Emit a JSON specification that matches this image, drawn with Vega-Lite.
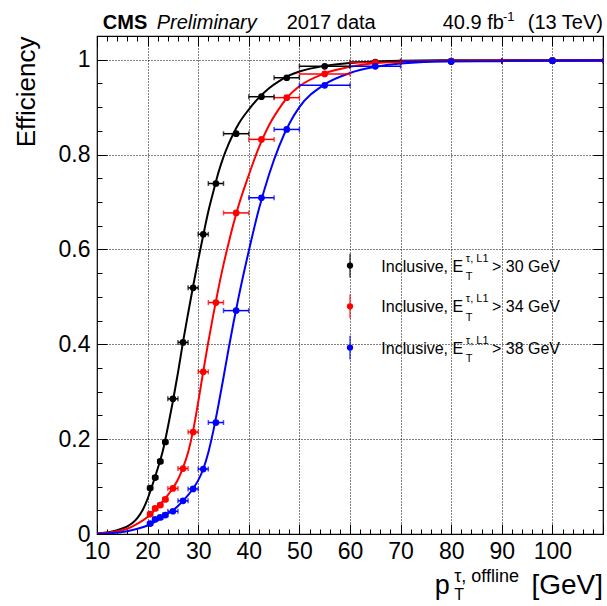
{
  "$schema": "https://vega.github.io/schema/vega-lite/v6.json",
  "width": 506,
  "height": 498,
  "autosize": {"type": "none"},
  "padding": {"left": 97, "top": 36, "right": 4, "bottom": 72},
  "background": "white",
  "config": {
    "view": {"stroke": "#000", "strokeWidth": 1.2},
    "font": "Liberation Sans",
    "text": {"font": "Liberation Sans", "color": "#000"}
  },
  "datasets": {
    "one": [{}],
    "fits": [
      {"s":"30","pt":10,"eff":0.001},{"s":"30","pt":12,"eff":0.003},{"s":"30","pt":14,"eff":0.008},{"s":"30","pt":16,"eff":0.016},{"s":"30","pt":17,"eff":0.023},{"s":"30","pt":18,"eff":0.034},{"s":"30","pt":19,"eff":0.05},{"s":"30","pt":20,"eff":0.074},{"s":"30","pt":21,"eff":0.105},{"s":"30","pt":22,"eff":0.138},{"s":"30","pt":23,"eff":0.175},{"s":"30","pt":24,"eff":0.225},{"s":"30","pt":25,"eff":0.28},{"s":"30","pt":26,"eff":0.34},{"s":"30","pt":27,"eff":0.405},{"s":"30","pt":28,"eff":0.465},{"s":"30","pt":29,"eff":0.523},{"s":"30","pt":30,"eff":0.578},{"s":"30","pt":31,"eff":0.63},{"s":"30","pt":32,"eff":0.68},{"s":"30","pt":33,"eff":0.722},{"s":"30","pt":34,"eff":0.762},{"s":"30","pt":35,"eff":0.795},{"s":"30","pt":36,"eff":0.822},{"s":"30","pt":37,"eff":0.845},{"s":"30","pt":38,"eff":0.865},{"s":"30","pt":40,"eff":0.895},{"s":"30","pt":42,"eff":0.92},{"s":"30","pt":44,"eff":0.94},{"s":"30","pt":46,"eff":0.955},{"s":"30","pt":48,"eff":0.967},{"s":"30","pt":50,"eff":0.975},{"s":"30","pt":55,"eff":0.987},{"s":"30","pt":60,"eff":0.993},{"s":"30","pt":65,"eff":0.996},{"s":"30","pt":70,"eff":0.998},{"s":"30","pt":80,"eff":0.999},{"s":"30","pt":110,"eff":0.999},
      {"s":"34","pt":10,"eff":0.001},{"s":"34","pt":13,"eff":0.004},{"s":"34","pt":16,"eff":0.011},{"s":"34","pt":18,"eff":0.022},{"s":"34","pt":20,"eff":0.036},{"s":"34","pt":21,"eff":0.046},{"s":"34","pt":22,"eff":0.057},{"s":"34","pt":23,"eff":0.069},{"s":"34","pt":24,"eff":0.082},{"s":"34","pt":25,"eff":0.097},{"s":"34","pt":26,"eff":0.115},{"s":"34","pt":27,"eff":0.14},{"s":"34","pt":28,"eff":0.172},{"s":"34","pt":29,"eff":0.218},{"s":"34","pt":30,"eff":0.278},{"s":"34","pt":31,"eff":0.343},{"s":"34","pt":32,"eff":0.405},{"s":"34","pt":33,"eff":0.463},{"s":"34","pt":34,"eff":0.518},{"s":"34","pt":35,"eff":0.568},{"s":"34","pt":36,"eff":0.613},{"s":"34","pt":37,"eff":0.655},{"s":"34","pt":38,"eff":0.693},{"s":"34","pt":40,"eff":0.757},{"s":"34","pt":42,"eff":0.815},{"s":"34","pt":44,"eff":0.862},{"s":"34","pt":46,"eff":0.897},{"s":"34","pt":48,"eff":0.925},{"s":"34","pt":50,"eff":0.944},{"s":"34","pt":55,"eff":0.971},{"s":"34","pt":60,"eff":0.985},{"s":"34","pt":65,"eff":0.993},{"s":"34","pt":70,"eff":0.996},{"s":"34","pt":80,"eff":0.998},{"s":"34","pt":110,"eff":0.999},
      {"s":"38","pt":10,"eff":0.0005},{"s":"38","pt":13,"eff":0.002},{"s":"38","pt":16,"eff":0.006},{"s":"38","pt":18,"eff":0.011},{"s":"38","pt":20,"eff":0.018},{"s":"38","pt":21,"eff":0.023},{"s":"38","pt":22,"eff":0.029},{"s":"38","pt":23,"eff":0.036},{"s":"38","pt":24,"eff":0.043},{"s":"38","pt":25,"eff":0.05},{"s":"38","pt":26,"eff":0.059},{"s":"38","pt":27,"eff":0.07},{"s":"38","pt":28,"eff":0.082},{"s":"38","pt":29,"eff":0.096},{"s":"38","pt":30,"eff":0.113},{"s":"38","pt":31,"eff":0.137},{"s":"38","pt":32,"eff":0.172},{"s":"38","pt":33,"eff":0.218},{"s":"38","pt":34,"eff":0.272},{"s":"38","pt":35,"eff":0.33},{"s":"38","pt":36,"eff":0.39},{"s":"38","pt":37,"eff":0.447},{"s":"38","pt":38,"eff":0.5},{"s":"38","pt":40,"eff":0.597},{"s":"38","pt":42,"eff":0.685},{"s":"38","pt":44,"eff":0.758},{"s":"38","pt":46,"eff":0.818},{"s":"38","pt":48,"eff":0.865},{"s":"38","pt":50,"eff":0.9},{"s":"38","pt":55,"eff":0.948},{"s":"38","pt":60,"eff":0.972},{"s":"38","pt":65,"eff":0.985},{"s":"38","pt":70,"eff":0.992},{"s":"38","pt":80,"eff":0.997},{"s":"38","pt":110,"eff":0.999}
    ],
    "pts": [
      {"s":"30","pt":20.5,"lo":20,"hi":21,"eff":0.097},{"s":"30","pt":21.5,"lo":21,"hi":22,"eff":0.119},{"s":"30","pt":22.5,"lo":22,"hi":23,"eff":0.153},{"s":"30","pt":23.5,"lo":23,"hi":24,"eff":0.194},{"s":"30","pt":25,"lo":24,"hi":26,"eff":0.285},{"s":"30","pt":27,"lo":26,"hi":28,"eff":0.404},{"s":"30","pt":29,"lo":28,"hi":30,"eff":0.519},{"s":"30","pt":31,"lo":30,"hi":32,"eff":0.632},{"s":"30","pt":33.5,"lo":32,"hi":35,"eff":0.739},{"s":"30","pt":37.5,"lo":35,"hi":40,"eff":0.844},{"s":"30","pt":42.5,"lo":40,"hi":45,"eff":0.922},{"s":"30","pt":47.5,"lo":45,"hi":50,"eff":0.962},{"s":"30","pt":55,"lo":50,"hi":60,"eff":0.986},{"s":"30","pt":65,"lo":60,"hi":70,"eff":0.995},{"s":"30","pt":80,"lo":70,"hi":90,"eff":0.997},{"s":"30","pt":100,"lo":90,"hi":110,"eff":0.998},
      {"s":"34","pt":20.5,"lo":20,"hi":21,"eff":0.042},{"s":"34","pt":21.5,"lo":21,"hi":22,"eff":0.054},{"s":"34","pt":22.5,"lo":22,"hi":23,"eff":0.061},{"s":"34","pt":23.5,"lo":23,"hi":24,"eff":0.073},{"s":"34","pt":25,"lo":24,"hi":26,"eff":0.096},{"s":"34","pt":27,"lo":26,"hi":28,"eff":0.138},{"s":"34","pt":29,"lo":28,"hi":30,"eff":0.215},{"s":"34","pt":31,"lo":30,"hi":32,"eff":0.342},{"s":"34","pt":33.5,"lo":32,"hi":35,"eff":0.488},{"s":"34","pt":37.5,"lo":35,"hi":40,"eff":0.677},{"s":"34","pt":42.5,"lo":40,"hi":45,"eff":0.832},{"s":"34","pt":47.5,"lo":45,"hi":50,"eff":0.92},{"s":"34","pt":55,"lo":50,"hi":60,"eff":0.97},{"s":"34","pt":65,"lo":60,"hi":70,"eff":0.994},{"s":"34","pt":80,"lo":70,"hi":90,"eff":0.997},{"s":"34","pt":100,"lo":90,"hi":110,"eff":0.998},
      {"s":"38","pt":20.5,"lo":20,"hi":21,"eff":0.022},{"s":"38","pt":21.5,"lo":21,"hi":22,"eff":0.031},{"s":"38","pt":22.5,"lo":22,"hi":23,"eff":0.035},{"s":"38","pt":23.5,"lo":23,"hi":24,"eff":0.04},{"s":"38","pt":25,"lo":24,"hi":26,"eff":0.048},{"s":"38","pt":27,"lo":26,"hi":28,"eff":0.07},{"s":"38","pt":29,"lo":28,"hi":30,"eff":0.095},{"s":"38","pt":31,"lo":30,"hi":32,"eff":0.137},{"s":"38","pt":33.5,"lo":32,"hi":35,"eff":0.235},{"s":"38","pt":37.5,"lo":35,"hi":40,"eff":0.471},{"s":"38","pt":42.5,"lo":40,"hi":45,"eff":0.709},{"s":"38","pt":47.5,"lo":45,"hi":50,"eff":0.853},{"s":"38","pt":55,"lo":50,"hi":60,"eff":0.946},{"s":"38","pt":65,"lo":60,"hi":70,"eff":0.986},{"s":"38","pt":80,"lo":70,"hi":90,"eff":0.996},{"s":"38","pt":100,"lo":90,"hi":110,"eff":0.998}
    ]
  },
  "layer": [
    {
      "data": {"name": "fits"},
      "mark": {"type": "line", "interpolate": "monotone", "strokeWidth": 2, "clip": true},
      "encoding": {
        "x": {"field": "pt", "type": "quantitative",
          "scale": {"domain": [10, 110], "nice": false, "zero": false},
          "axis": {"orient": "bottom", "title": null, "format": "d",
            "values": [10,12,14,16,18,20,22,24,26,28,30,32,34,36,38,40,42,44,46,48,50,52,54,56,58,60,62,64,66,68,70,72,74,76,78,80,82,84,86,88,90,92,94,96,98,100,102,104,106,108,110],
            "labelExpr": "(datum.value % 10 == 0) && (datum.value < 105) ? datum.label : ''",
            "tickSize": {"condition": {"test": "datum.value % 10 == 0", "value": -10}, "value": -5},
            "labelPadding": 16, "tickColor": "#000", "tickWidth": 1,
            "grid": true, "gridColor": "#000", "gridDash": [1, 2], "gridWidth": 1,
            "gridOpacity": {"condition": {"test": "(datum.value % 10 == 0) && (datum.value > 15) && (datum.value < 105)", "value": 1}, "value": 0},
            "domain": false, "labelFlush": false, "labelOverlap": false, "labelBound": false,
            "labelFontSize": 23, "labelColor": "#000", "labelFont": "Liberation Sans"}},
        "y": {"field": "eff", "type": "quantitative",
          "scale": {"domain": [0, 1.05], "nice": false, "zero": false},
          "axis": {"orient": "left", "title": "Efficiency", "format": "~g",
            "values": [0,0.05,0.1,0.15,0.2,0.25,0.3,0.35,0.4,0.45,0.5,0.55,0.6,0.65,0.7,0.75,0.8,0.85,0.9,0.95,1.0],
            "labelExpr": "abs(datum.value*5 - round(datum.value*5)) < 0.001 ? datum.label : ''",
            "tickSize": {"condition": {"test": "abs(datum.value*5 - round(datum.value*5)) < 0.001", "value": -10}, "value": -5},
            "labelPadding": 17, "tickColor": "#000", "tickWidth": 1,
            "grid": true, "gridColor": "#000", "gridDash": [1, 2], "gridWidth": 1,
            "gridOpacity": {"condition": {"test": "abs(datum.value*5 - round(datum.value*5)) < 0.001 && datum.value > 0.01", "value": 1}, "value": 0},
            "domain": false, "labelFlush": false, "labelOverlap": false, "labelBound": false,
            "labelFontSize": 23, "labelColor": "#000", "labelFont": "Liberation Sans",
            "titleFontSize": 26, "titleFontWeight": "normal", "titleFont": "Liberation Sans", "titleColor": "#000",
            "titleAnchor": "end", "titlePadding": 19}},
        "color": {"field": "s", "type": "nominal", "scale": {"domain": ["30", "34", "38"], "range": ["#000000", "#ff0000", "#0000ff"]}, "legend": null}
      }
    },
    {
      "data": {"name": "pts"},
      "mark": {"type": "rule", "strokeWidth": 1.5},
      "encoding": {
        "x": {"field": "lo", "type": "quantitative", "axis": null},
        "x2": {"field": "hi"},
        "y": {"field": "eff", "type": "quantitative", "axis": null},
        "color": {"field": "s", "type": "nominal", "legend": null}
      }
    },
    {
      "data": {"name": "pts"},
      "mark": {"type": "tick", "orient": "vertical", "size": 5, "thickness": 1.5},
      "encoding": {
        "x": {"field": "lo", "type": "quantitative", "axis": null},
        "y": {"field": "eff", "type": "quantitative", "axis": null},
        "color": {"field": "s", "type": "nominal", "legend": null}
      }
    },
    {
      "data": {"name": "pts"},
      "mark": {"type": "tick", "orient": "vertical", "size": 5, "thickness": 1.5},
      "encoding": {
        "x": {"field": "hi", "type": "quantitative", "axis": null},
        "y": {"field": "eff", "type": "quantitative", "axis": null},
        "color": {"field": "s", "type": "nominal", "legend": null}
      }
    },
    {
      "data": {"name": "pts"},
      "mark": {"type": "point", "filled": true, "size": 45, "opacity": 1},
      "encoding": {
        "x": {"field": "pt", "type": "quantitative", "axis": null},
        "y": {"field": "eff", "type": "quantitative", "axis": null},
        "color": {"field": "s", "type": "nominal", "legend": null}
      }
    },
    {"data": {"name": "one"}, "mark": {"type": "rule", "color": "#000", "strokeWidth": 1.5, "opacity": 0.7}, "encoding": {"x": {"datum": 60, "axis": null}, "y": {"datum": 0.541, "axis": null}, "y2": {"datum": 0.591}}},
    {"data": {"name": "one"}, "mark": {"type": "point", "filled": true, "size": 40, "color": "#000", "opacity": 1}, "encoding": {"x": {"datum": 60, "axis": null}, "y": {"datum": 0.566, "axis": null}}},
    {"data": {"name": "one"}, "mark": {"type": "text", "align": "left", "baseline": "alphabetic", "fontSize": 16, "text": "Inclusive, E"}, "encoding": {"x": {"datum": 66.2, "axis": null}, "y": {"datum": 0.5533, "axis": null}}},
    {"data": {"name": "one"}, "mark": {"type": "text", "align": "left", "baseline": "alphabetic", "fontSize": 11, "text": "T"}, "encoding": {"x": {"datum": 82.9, "axis": null}, "y": {"datum": 0.536, "axis": null}}},
    {"data": {"name": "one"}, "mark": {"type": "text", "align": "left", "baseline": "alphabetic", "fontSize": 11, "text": "τ, L1"}, "encoding": {"x": {"datum": 82.9, "axis": null}, "y": {"datum": 0.5745, "axis": null}}},
    {"data": {"name": "one"}, "mark": {"type": "text", "align": "left", "baseline": "alphabetic", "fontSize": 16, "text": "> 30 GeV"}, "encoding": {"x": {"datum": 88.06, "axis": null}, "y": {"datum": 0.5533, "axis": null}}},
    {"data": {"name": "one"}, "mark": {"type": "rule", "color": "#ff0000", "strokeWidth": 1.5, "opacity": 0.7}, "encoding": {"x": {"datum": 60, "axis": null}, "y": {"datum": 0.455, "axis": null}, "y2": {"datum": 0.505}}},
    {"data": {"name": "one"}, "mark": {"type": "point", "filled": true, "size": 40, "color": "#ff0000", "opacity": 1}, "encoding": {"x": {"datum": 60, "axis": null}, "y": {"datum": 0.48, "axis": null}}},
    {"data": {"name": "one"}, "mark": {"type": "text", "align": "left", "baseline": "alphabetic", "fontSize": 16, "text": "Inclusive, E"}, "encoding": {"x": {"datum": 66.2, "axis": null}, "y": {"datum": 0.4673, "axis": null}}},
    {"data": {"name": "one"}, "mark": {"type": "text", "align": "left", "baseline": "alphabetic", "fontSize": 11, "text": "T"}, "encoding": {"x": {"datum": 82.9, "axis": null}, "y": {"datum": 0.45, "axis": null}}},
    {"data": {"name": "one"}, "mark": {"type": "text", "align": "left", "baseline": "alphabetic", "fontSize": 11, "text": "τ, L1"}, "encoding": {"x": {"datum": 82.9, "axis": null}, "y": {"datum": 0.4885, "axis": null}}},
    {"data": {"name": "one"}, "mark": {"type": "text", "align": "left", "baseline": "alphabetic", "fontSize": 16, "text": "> 34 GeV"}, "encoding": {"x": {"datum": 88.06, "axis": null}, "y": {"datum": 0.4673, "axis": null}}},
    {"data": {"name": "one"}, "mark": {"type": "rule", "color": "#0000ff", "strokeWidth": 1.5, "opacity": 0.7}, "encoding": {"x": {"datum": 60, "axis": null}, "y": {"datum": 0.368, "axis": null}, "y2": {"datum": 0.418}}},
    {"data": {"name": "one"}, "mark": {"type": "point", "filled": true, "size": 40, "color": "#0000ff", "opacity": 1}, "encoding": {"x": {"datum": 60, "axis": null}, "y": {"datum": 0.393, "axis": null}}},
    {"data": {"name": "one"}, "mark": {"type": "text", "align": "left", "baseline": "alphabetic", "fontSize": 16, "text": "Inclusive, E"}, "encoding": {"x": {"datum": 66.2, "axis": null}, "y": {"datum": 0.3803, "axis": null}}},
    {"data": {"name": "one"}, "mark": {"type": "text", "align": "left", "baseline": "alphabetic", "fontSize": 11, "text": "T"}, "encoding": {"x": {"datum": 82.9, "axis": null}, "y": {"datum": 0.363, "axis": null}}},
    {"data": {"name": "one"}, "mark": {"type": "text", "align": "left", "baseline": "alphabetic", "fontSize": 11, "text": "τ, L1"}, "encoding": {"x": {"datum": 82.9, "axis": null}, "y": {"datum": 0.4015, "axis": null}}},
    {"data": {"name": "one"}, "mark": {"type": "text", "align": "left", "baseline": "alphabetic", "fontSize": 16, "text": "> 38 GeV"}, "encoding": {"x": {"datum": 88.06, "axis": null}, "y": {"datum": 0.3803, "axis": null}}},
    {"data": {"name": "one"}, "mark": {"type": "text", "align": "left", "baseline": "alphabetic", "fontSize": 20, "fontWeight": "bold", "text": "CMS"}, "encoding": {"x": {"datum": 11.15, "axis": null}, "y": {"datum": 1.064, "axis": null}}},
    {"data": {"name": "one"}, "mark": {"type": "text", "align": "left", "baseline": "alphabetic", "fontSize": 20, "fontStyle": "italic", "text": "Preliminary"}, "encoding": {"x": {"datum": 21.8, "axis": null}, "y": {"datum": 1.064, "axis": null}}},
    {"data": {"name": "one"}, "mark": {"type": "text", "align": "left", "baseline": "alphabetic", "fontSize": 20, "text": "2017 data"}, "encoding": {"x": {"datum": 47.5, "axis": null}, "y": {"datum": 1.064, "axis": null}}},
    {"data": {"name": "one"}, "mark": {"type": "text", "align": "right", "baseline": "alphabetic", "fontSize": 20, "text": "40.9 fb"}, "encoding": {"x": {"datum": 90.4, "axis": null}, "y": {"datum": 1.064, "axis": null}}},
    {"data": {"name": "one"}, "mark": {"type": "text", "align": "right", "baseline": "alphabetic", "fontSize": 13, "text": "-1"}, "encoding": {"x": {"datum": 92.5, "axis": null}, "y": {"datum": 1.081, "axis": null}}},
    {"data": {"name": "one"}, "mark": {"type": "text", "align": "right", "baseline": "alphabetic", "fontSize": 20, "text": "(13 TeV)"}, "encoding": {"x": {"datum": 110, "axis": null}, "y": {"datum": 1.064, "axis": null}}},
    {"data": {"name": "one"}, "mark": {"type": "text", "align": "left", "baseline": "alphabetic", "fontSize": 27, "text": "p"}, "encoding": {"x": {"datum": 76.75, "axis": null}, "y": {"datum": -0.1271, "axis": null}}},
    {"data": {"name": "one"}, "mark": {"type": "text", "align": "left", "baseline": "alphabetic", "fontSize": 16, "text": "T"}, "encoding": {"x": {"datum": 80.6, "axis": null}, "y": {"datum": -0.1398, "axis": null}}},
    {"data": {"name": "one"}, "mark": {"type": "text", "align": "left", "baseline": "alphabetic", "fontSize": 18, "text": "τ, offline"}, "encoding": {"x": {"datum": 80.6, "axis": null}, "y": {"datum": -0.1018, "axis": null}}},
    {"data": {"name": "one"}, "mark": {"type": "text", "align": "right", "baseline": "alphabetic", "fontSize": 28, "text": "[GeV]"}, "encoding": {"x": {"datum": 110, "axis": null}, "y": {"datum": -0.1271, "axis": null}}},
    {
      "data": {"name": "one"},
      "mark": {"type": "point", "opacity": 0},
      "encoding": {
        "x": {"datum": 10, "type": "quantitative",
          "axis": {"orient": "top", "title": null, "labels": false, "grid": false, "domain": false,
            "values": [10,12,14,16,18,20,22,24,26,28,30,32,34,36,38,40,42,44,46,48,50,52,54,56,58,60,62,64,66,68,70,72,74,76,78,80,82,84,86,88,90,92,94,96,98,100,102,104,106,108,110],
            "tickSize": {"condition": {"test": "datum.value % 10 == 0", "value": -10}, "value": -5},
            "tickColor": "#000", "tickWidth": 1}},
        "y": {"datum": 0, "type": "quantitative",
          "axis": {"orient": "right", "title": null, "labels": false, "grid": false, "domain": false,
            "values": [0,0.05,0.1,0.15,0.2,0.25,0.3,0.35,0.4,0.45,0.5,0.55,0.6,0.65,0.7,0.75,0.8,0.85,0.9,0.95,1.0],
            "tickSize": {"condition": {"test": "abs(datum.value*5 - round(datum.value*5)) < 0.001", "value": -10}, "value": -5},
            "tickColor": "#000", "tickWidth": 1}}
      }
    }
  ]
}
